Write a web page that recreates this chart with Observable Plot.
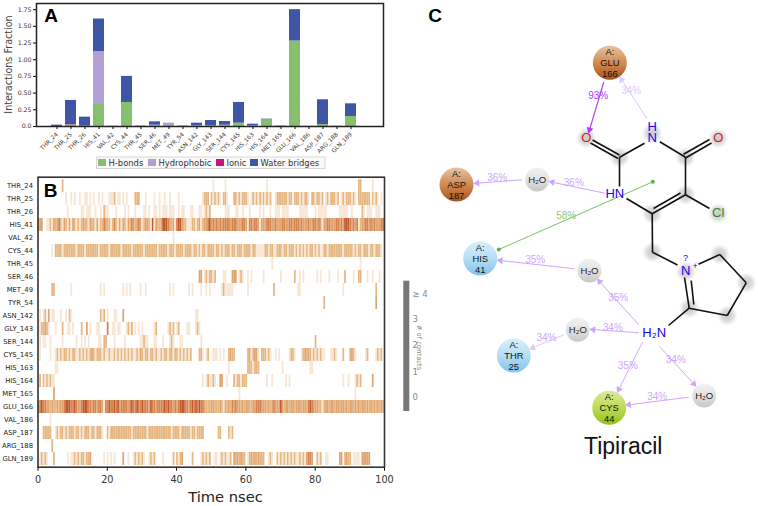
<!DOCTYPE html>
<html><head><meta charset="utf-8">
<script src="https://cdn.jsdelivr.net/npm/d3@7"></script>
<script src="https://cdn.jsdelivr.net/npm/@observablehq/plot@0.6"></script>
<style>
html,body{margin:0;padding:0;background:#fff}
#chart{position:relative;width:758px;height:506px;overflow:hidden}
#chart svg{position:absolute;left:0;top:0}
</style></head><body><div id="chart"></div>
<script>
const residues = ["THR_24","THR_25","THR_26","HIS_41","VAL_42","CYS_44","THR_45","SER_46","MET_49","TYR_54","ASN_142","GLY_143","SER_144","CYS_145","HIS_163","HIS_164","MET_165","GLU_166","VAL_186","ASP_187","ARG_188","GLN_189"];
// Panel A: interaction fractions per residue
const hBonds      = [0,.025,.005,.33,0,.36,0,.02,0,0,.01,.01,.02,.05,.01,.10,0,1.28,0,.03,0,.15];
const hydrophobic = [0,0,0,.79,0,0,0,0,.05,0,0,0,0,0,0,0,0,0,0,0,0,0];
const ionic       = [0,.02,0,0,0,0,0,0,0,0,0,0,0,0,0,0,0,0,0,0,0,0];
const water       = [.02,.345,.135,.49,.003,.39,.005,.05,0,.005,.04,.08,.055,.31,.025,.01,.005,.47,.002,.37,.003,.19];
const interactionTypes = ["H-bonds","Hydrophobic","Ionic","Water bridges"];
const interactionColors = ["#86c06e","#b3a0d2","#c8147c","#3f56a6"];
const fractionTicks = [0,.25,.5,.75,1,1.25,1.5,1.75];
// Panel B: contact level per 0.5 ns; each 10-char block is 5 ns, "i:" jumps to block i
const contactRows = [
"1:....2..... 10:.1......1. 13:..1....... 18:.....22... ...1......",
"1:......1..1 .1..1..11. 1.1..1.1.. .1112.11.1 .1....222. ..1....1.. 1..1..1... .1........ 9:.....1222. 212121.221 ...2212122 21.1212121 21212..122 2222122.22 2121221.22 12212.1212 2212.12122 2121.22222 22.2121.1.",
"1:.......1.. .....11.11 1..1..1.21 1....1.... 1.1...1... .11.1..11. 1.111.111. .1.11...11 ...11.1212 ........11 1...11..1. ..1.....1. 1...1..111 .1111..... .11111.... 1.11111... ....11111. .1.....21. 111..111..",
"333..11213 2342132131 3212123221 3221312243 2212421313 2132432343 1233215132 2355543231 4553221112 2123123345 3434343444 4344433344 3144344313 3344433433 3443344344 4343334334 4343133443 3344343555 4343412334 4343433344",
"7:........1.",
"0:........1. 2222122222 2212222122 2222212222 2122222212 2222122222 2122222221 2222212221 2222122221 2212122122 2212212122 2122122212 2221221111 1221221122 2122122212 1212121221 2121122122 2222221222 2212122122 212212221.",
"13:.....1.... 18:......1...",
"9:...33.1212 212....11. ..333.121. .1.1...... 1......... 1.......2. .1.1...... .1.1....1. ...1...2.. ..1..22... 1..1...1..",
"0:........22 .........1 3:......1.1. .........1 .1.1.....1 ..1....... ......1.1. .......1.1 ....1..1.1 ......1211 111....... .1........ ......2... 15:11........ 17:......1... 19:.....2....",
"16:.....2.... 19:.....3....",
".1.12.3.11 ...1..1.21 3:......212. 1...11...3 9:.11.......",
".122321... 1...2..11. 1....2..3. 1...11.... 4..11.11.. .1212.1.1. 1......12. .....1212. 12....11.. .121......",
".1.11..1.. ....1..... ..1..1.1.1 .....11.22 ....1..... 1........1 1211...11. ..1...121. ..11...... ....1..... 16:2.........",
".1.....1.. 1212122121 2211212121 2321222121 1211212121 2121211213 2122122121 1212212212 212121212. ...221.12. .111.1.1.. 2322...... .2312331.2 22121..1.1 .....1221. ..12323212 121211...1 121...2... 2321.....1 2....1212.",
"1:11........ 11:1......... .2221222.. 14:.1........ .......11.",
".2.2121211 9:.....1.121 121..33..1 ...2122122 2......... ..1..1.... ...1.1.... 17:......1..1 ...1212... ...3......",
"0:.........3 11:......1... 18:...1......",
"3454433232 2323345554 4543345554 4344344314 4544545344 4434544544 5444354434 4445454434 3455544345 4545443222 3322232132 3243433232 3322334443 3323234333 5323323323 3323324543 3322123323 3233233232 3323232332 3232323232",
"0:.......1..",
"...22222.. 1212212122 2122121222 12212221.. 2122222222 2222122222 2221222222 2222222122 2212222212 212222.... ....22.... 212.......",
"0:........2.",
".12121...2 .......1.1 1212122122 3.......1. 1.1.1....3 ..1..12121 21..1212.. ..1.....2. 2123.....2 ....121212 ..11.12121 12.3232322 .123232322 2..121..21 2121212121 121213443. .212..11.. ....33.232 2.1111.333 33........"
];
const contactLevels = [1,2,3,4,5];
const contactColors = ["#f6e6d3","#e6b782","#e0a470","#d58450","#c0582e"];
const timeTicks = [0,20,40,60,80,100];
// Panel C: interaction diagram, in diagram coordinates
const residueNodes = [
 {n:"A:\nGLU\n166",x:609.3,y:62.3,g:"orange"},{n:"A:\nASP\n187",x:456,y:184,g:"orange"},
 {n:"A:\nHIS\n41",x:479.7,y:258,g:"blue"},{n:"A:\nTHR\n25",x:513.3,y:355,g:"blue"},
 {n:"A:\nCYS\n44",x:608.7,y:407.3,g:"green"}];
const waterNodes = [[536.7,179],[589,270],[577.3,329.3],[703.7,395]];
const halos = [[585.7,137.7],[717.7,137.7],[651.7,133],[619,156.7],[685,156.7],[685,194.3],[651.7,213.3],[717.7,213],[652,251.7],[685.3,271],[719.3,254],[745.7,282.3],[726.7,315],[688.7,307.7]];
const bonds = [
 [592,139.5,619,154.5],[590,142.5,617.5,158],[619,156.7,644,142.7],[659.3,141.3,685,156.7],[685,157.5,711,142.5],[683,153.8,709,139],
 [685,156.7,685,194.3],[685,194.3,651.7,213.3],[653,208,680,192.5],[651.7,213.3,626,198],[619,156.7,619,186],[685,194.3,709,208],
 [651.7,213.3,652,251.7],[652,251.7,677,264.5],[698,263.7,719.3,254],[719.3,254,745.7,282.3],[745.7,282.3,726.7,315],[726.7,315,688.7,307.7],
 [688.7,307.7,684,277],[693.3,304,690.7,280],[688.7,307.7,668,325]];
const atoms = [
 {t:"O",x:585.7,y:137.7,c:"#cf1f28"},{t:"O",x:717.7,y:137.7,c:"#cf1f28"},{t:"H\nN",x:651.7,y:132,c:"#2200ee"},
 {t:"HN",x:614.3,y:194.3,c:"#2200ee"},{t:"Cl",x:717.7,y:213,c:"#2f8a1e"},{t:"N",x:685.3,y:270.5,c:"#2200ee"},{t:"?",x:685,y:258.5,c:"#2200ee"},
 {t:"+",x:694.5,y:266,c:"#2200ee"},{t:"H\u2082N",x:653.7,y:333.3,c:"#2200ee"}];
const arrows = [
 [603.3,81.7,589,129.3,"strong"],[646.7,118.3,621,79.3,"faint"],[604.3,192.7,551.7,181.7,"weak"],[521.7,179.3,476.7,182.7,"weak"],
 [574,268.3,500,260,"weak"],[638.3,324.3,599,281,"weak"],[638.3,332.3,592.7,329,"weak"],[563.3,334.3,532.3,347.3,"faint"],
 [642,341.7,618.3,389,"weak"],[658.7,345.7,693.3,383.3,"weak"],[688.3,396.7,628.3,404.3,"weak"]];
const percentLabels = [
 ["93%",597.7,95.7,"strong"],["34%",630.7,90,"faint"],["36%",573.3,182.3,"weak"],["36%",496.7,177.3,"weak"],["58%",565.7,215.7,"green"],
 ["35%",534.7,259.3,"weak"],["35%",617.7,297.3,"weak"],["34%",612.3,327,"weak"],["34%",546,337.3,"weak"],["35%",627.3,365.7,"weak"],
 ["34%",675.3,359.7,"weak"],["34%",656.7,396.7,"weak"]];
const piStack = [[652.3,181.3,498.3,249]];
const arrowColors = {strong:"#b03cff",weak:"#cfa4ff",faint:"#e0c6ff",green:"#8fcb78"};
const contactCountLabels = [["\u2265 4",411,294],["3",411,319],["2",411,345],["1",411,371.7],["0",411,397]];
const legendEntries = [[98,"H-bonds"],[148,"Hydrophobic"],[216,"Ionic"],[250,"Water bridges"]];

const W=758,H=506, root=document.getElementById("chart");

// ---- Panel A
const stacked = residues.flatMap((r,i)=>[hBonds,hydrophobic,ionic,water].map((s,j)=>({residue:r,type:interactionTypes[j],value:s[i]})));
root.append(Plot.plot({width:W,height:H,marginLeft:36,marginRight:375,marginTop:3,marginBottom:380,
 style:{background:"transparent",fontFamily:"DejaVu Sans"},
 x:{domain:residues,range:[38.5,368.5],padding:.2},
 y:{domain:[0,1.842]},
 color:{domain:interactionTypes,range:interactionColors},
 marks:[
  Plot.barY(stacked,{x:"residue",y:"value",fill:"type",order:interactionTypes}),
  Plot.axisX({tickRotate:-45,fontSize:5.8,tickSize:3,tickPadding:4,label:null,fill:"#333"}),
  Plot.axisY({ticks:fractionTicks,tickFormat:d=>d===0?"0.0":d.toFixed(2),fontSize:6.2,tickSize:3,tickPadding:2,label:null,fill:"#333"}),
  Plot.frame({stroke:"#222",strokeWidth:1.5})
 ]}));

// ---- Panel B
const contacts=[];
contactRows.forEach((row,r)=>{let b=0;for(let tok of row.split(" ")){if(tok.includes(":")){const p=tok.split(":");b=+p[0];tok=p[1];}
 [...tok].forEach((ch,i)=>{if(ch!==".")contacts.push({residue:residues[r],t:b*5+i*.5,end:b*5+i*.5+.5,level:+ch});});b++;}});
root.append(Plot.plot({width:W,height:H,marginLeft:37.5,marginRight:374,marginTop:176.7,marginBottom:39.3,
 style:{background:"transparent",fontFamily:"DejaVu Sans"},
 x:{domain:[0,100]},
 y:{domain:residues,padding:0},
 color:{type:"ordinal",domain:contactLevels,range:contactColors},
 marks:[
  Plot.barX(contacts,{x1:"t",x2:"end",y:"residue",fill:"level"}),
  Plot.axisY({fontSize:6.8,tickSize:0,tickPadding:5,label:null,fill:"#222"}),
  Plot.axisX({ticks:timeTicks,fontSize:9.7,tickSize:4,tickPadding:5,label:null,fill:"#333"}),
  Plot.frame({stroke:"#333",strokeWidth:1.6})
 ]}));

// ---- Overlay: panel C, letters, colour bar, legend
const ends = arrows.map(a=>({x:a[2],y:a[3],k:a[4],r:Math.atan2(a[2]-a[0],a[1]-a[3])*180/Math.PI}));
const over = Plot.plot({width:W,height:H,margin:0,
 style:{background:"transparent",fontFamily:"Liberation Sans"},
 x:{domain:[0,W],range:[0,W],axis:null},y:{domain:[0,H],range:[0,H],axis:null},
 marks:[
  // legend
  Plot.rect([[96.5,157,325,168.5]],{x1:d=>d[0],y1:d=>d[1],x2:d=>d[2],y2:d=>d[3],fill:"#fafafa",stroke:"#d8d8d8"}),
  Plot.rect(legendEntries,{x1:d=>d[0],x2:d=>d[0]+8,y1:159,y2:166,fill:(d,i)=>interactionColors[i]}),
  Plot.text(legendEntries,{x:d=>d[0]+10,y:162.7,text:d=>d[1],textAnchor:"start",fontFamily:"DejaVu Sans",fontSize:8.4,fill:"#333"}),
  // outer text
  Plot.text(["Interactions Fraction"],{x:8,y:64,rotate:-90,fontFamily:"DejaVu Sans",fontSize:9.6,fill:"#444"}),
  Plot.text(["Time nsec"],{x:225,y:497,fontFamily:"DejaVu Sans",fontSize:14.7,fill:"#222"}),
  Plot.text([["A",50.5,15],["B",50,190.5],["C",434.5,15]],{x:d=>d[1],y:d=>d[2],text:d=>d[0],fontWeight:"bold",fontSize:19,fill:"#000"}),
  // colour bar
  Plot.rect([[403.3,280.7,409.3,411]],{x1:d=>d[0],y1:d=>d[1],x2:d=>d[2],y2:d=>d[3],fill:"#777"}),
  Plot.text(contactCountLabels,{x:d=>d[1]+1,y:d=>d[2],text:d=>d[0],textAnchor:"start",fontFamily:"DejaVu Sans",fontSize:8.5,fill:"#888"}),
  Plot.text(["# of contacts"],{x:418.5,y:347,rotate:90,fontFamily:"DejaVu Sans",fontSize:6.8,fill:"#888"}),
  // diagram
  Plot.dot(halos,{x:d=>d[0],y:d=>d[1],r:10.5,fill:"url(#halo)"}),
  Plot.link(bonds,{x1:d=>d[0],y1:d=>d[1],x2:d=>d[2],y2:d=>d[3],stroke:"#111",strokeWidth:1.6}),
  Plot.link(piStack,{x1:d=>d[0],y1:d=>d[1],x2:d=>d[2],y2:d=>d[3],stroke:"#7cc063",strokeWidth:1}),
  Plot.dot(piStack.flatMap(d=>[[d[0],d[1]],[d[2],d[3]]]),{x:d=>d[0],y:d=>d[1],r:2,fill:"#62ad48"}),
  Plot.link(arrows,{x1:d=>d[0],y1:d=>d[1],x2:d=>d[2],y2:d=>d[3],stroke:d=>arrowColors[d[4]],strokeWidth:d=>d[4]==="strong"?1.2:1,strokeDasharray:d=>d[4]==="faint"?"2,1.5":null}),
  Plot.dot(ends,{x:"x",y:"y",symbol:"triangle",r:2.6,rotate:"r",fill:d=>arrowColors[d.k]}),
  Plot.dot(residueNodes,{x:"x",y:"y",r:17,fill:d=>`url(#g-${d.g})`}),
  Plot.dot(waterNodes,{x:d=>d[0],y:d=>d[1],r:12,fill:"url(#g-gray)"}),
  Plot.text(residueNodes,{x:"x",y:"y",text:"n",fontSize:9.4,lineHeight:1.17,fill:"#111"}),
  Plot.text(waterNodes,{x:d=>d[0],y:d=>d[1],text:()=>"H\u2082O",fontSize:9.5,fill:"#222"}),
  Plot.text(atoms,{x:"x",y:"y",text:"t",fontSize:d=>d.t==="+"||d.t==="?"?9:13,lineHeight:.85,fill:"c"}),
  Plot.text(percentLabels,{x:d=>d[1],y:d=>d[2],text:d=>d[0],fontSize:10,fill:d=>arrowColors[d[3]]}),
  Plot.text(["Tipiracil"],{x:622.7,y:445.7,fontSize:23,fill:"#111"})
 ]});
const NS="http://www.w3.org/2000/svg", defs=document.createElementNS(NS,"defs");
const grads={orange:["#e6c3a4","#d08b52","#a9501a"],blue:["#d8eefa","#b5def6","#7fc3ee"],green:["#d9e99a","#bcdc55","#93c11b"],gray:["#f2f2f2","#e2e2e2","#c6c6c6"]};
for(const k in grads){const g=document.createElementNS(NS,"linearGradient");g.id="g-"+k;g.setAttribute("x1",0);g.setAttribute("x2",0);g.setAttribute("y1",0);g.setAttribute("y2",1);
 grads[k].forEach((c,i)=>{const s=document.createElementNS(NS,"stop");s.setAttribute("offset",i/2);s.setAttribute("stop-color",c);g.append(s);});defs.append(g);}
const rg=document.createElementNS(NS,"radialGradient");rg.id="halo";
[[0,"#c8c8c8",1],[.55,"#d2d2d2",.8],[1,"#e0e0e0",0]].forEach(([o,c,a])=>{const s=document.createElementNS(NS,"stop");s.setAttribute("offset",o);s.setAttribute("stop-color",c);s.setAttribute("stop-opacity",a);rg.append(s);});
defs.append(rg);over.prepend(defs);
root.append(over);
</script></body></html>
